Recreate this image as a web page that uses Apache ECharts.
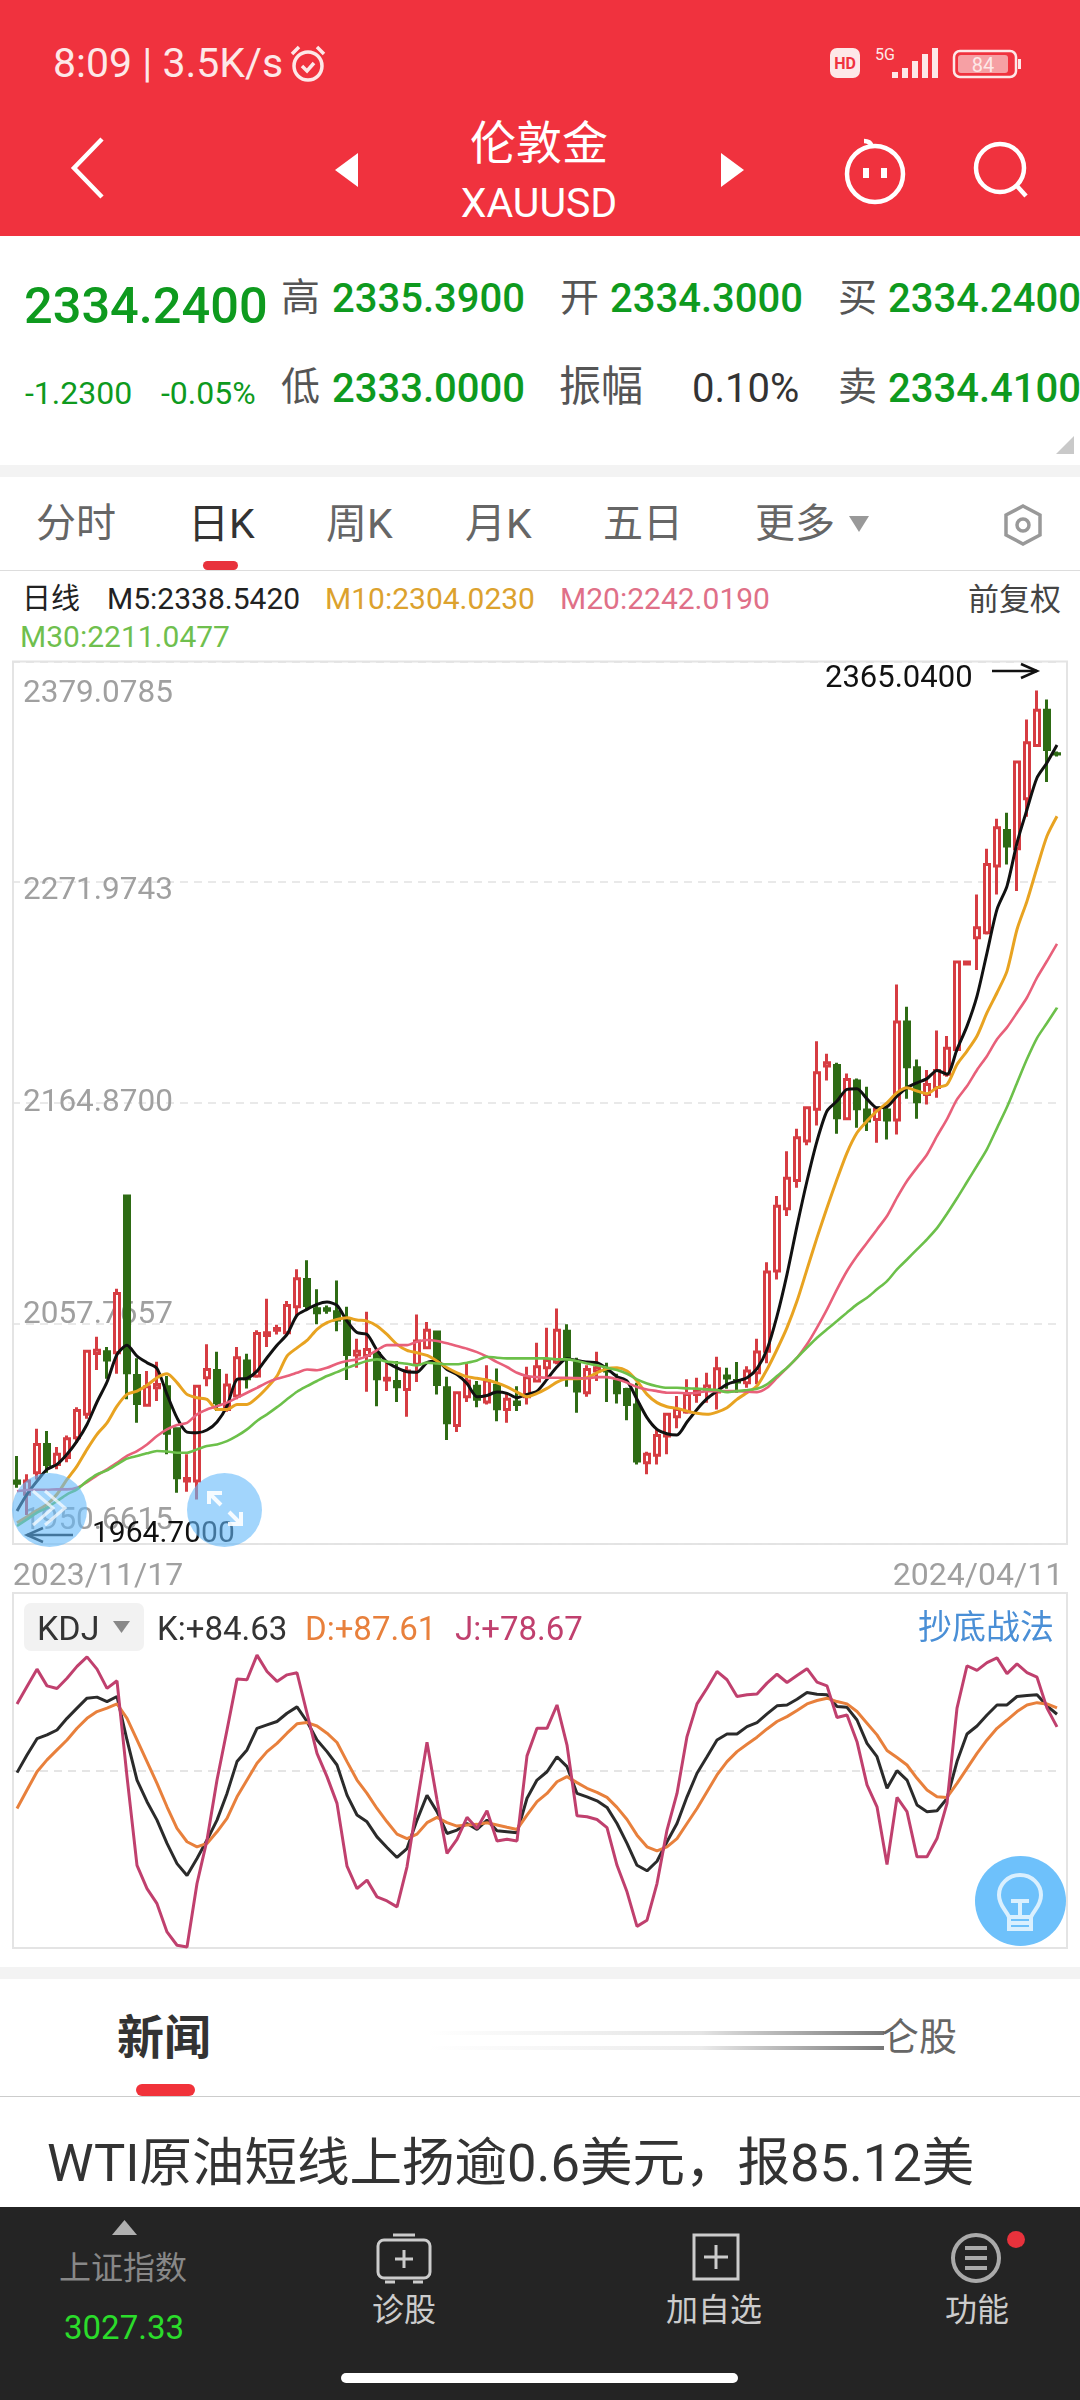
<!DOCTYPE html>
<html lang="zh"><head><meta charset="utf-8">
<script src="https://cdn.jsdelivr.net/npm/echarts@6/dist/echarts.min.js"></script>
<style>
html,body{margin:0;padding:0;background:#fff;width:1080px;height:2400px;overflow:hidden}
body{font-family:Roboto,"Noto Sans CJK SC",sans-serif;position:relative}
.t{position:absolute;white-space:nowrap;line-height:1;transform:translateY(-50%)}
.b{position:absolute}
.g{color:#0e9a1e}.n{color:#555}
#chart{position:absolute;left:0;top:0;width:1080px;height:2400px;z-index:1}
.o{z-index:2}
svg{position:absolute;overflow:visible}
</style></head><body>
<!-- header -->
<div class="b" style="left:0;top:0;width:1080px;height:236px;background:#f0323e"></div>
<span class="t" style="left:53px;top:63px;font-size:41px;color:#fde8e8">8:09 | 3.5K/s</span>
<svg style="left:288px;top:44px" width="40" height="40" fill="none" stroke="#fde8e8" stroke-width="3.5"><circle cx="20" cy="22" r="14"/><path d="M4 10l7-7M36 10l-7-7M14 22l5 5 7-8"/></svg>
<svg style="left:828px;top:46px" width="200" height="36">
<rect x="2" y="2" width="30" height="30" rx="7" fill="#fde8e8"/><text x="17" y="23" font-size="16" font-weight="700" text-anchor="middle" fill="#f0323e" font-family="Roboto">HD</text>
<text x="47" y="14" font-size="16" fill="#fde8e8" font-family="Roboto">5G</text>
<g fill="#fde8e8"><rect x="64" y="26" width="6" height="6"/><rect x="74" y="22" width="6" height="10"/><rect x="84" y="15" width="6" height="17"/><rect x="94" y="8" width="6" height="24"/><rect x="104" y="2" width="6" height="30"/></g>
<rect x="126" y="5" width="62" height="26" rx="6" fill="none" stroke="#fde8e8" stroke-width="2.5"/><rect x="130" y="9" width="50" height="18" rx="3" fill="#f6a0a4"/><text x="155" y="26" font-size="20" text-anchor="middle" fill="#fde8e8" font-family="Roboto">84</text><rect x="190" y="13" width="3" height="10" fill="#fde8e8"/>
</svg>
<span class="t" style="left:539px;top:143px;font-size:46px;color:#fff;transform:translate(-50%,-50%)">伦敦金</span>
<span class="t" style="left:539px;top:203px;font-size:41px;color:#fff;transform:translate(-50%,-50%)">XAUUSD</span>
<svg style="left:68px;top:136px" width="40" height="64" fill="none" stroke="#fff" stroke-width="4.5"><path d="M34 3L6 32l28 29"/></svg>
<svg style="left:335px;top:153px" width="24" height="34" fill="#fff"><path d="M23 0v34L0 17z"/></svg>
<svg style="left:720px;top:153px" width="24" height="34" fill="#fff"><path d="M1 0v34l23-17z"/></svg>
<svg style="left:842px;top:139px" width="66" height="60" fill="none" stroke="#fff" stroke-width="4.5"><circle cx="33" cy="35" r="28" /><path d="M30 7C28 2 24 2 22 2"/><path d="M24 29v10M42 29v10" stroke-width="6"/></svg>
<svg style="left:972px;top:141px" width="60" height="58" fill="none" stroke="#fff" stroke-width="4.5"><circle cx="28" cy="27" r="24"/><path d="M44 44l10 11"/></svg>
<!-- quote -->
<span class="t g" style="left:24px;top:306px;font-size:50.500px;font-weight:500">2334.2400</span>
<span class="t g" style="left:25px;top:393px;font-size:32px">-1.2300</span>
<span class="t g" style="left:161px;top:393px;font-size:32px">-0.05%</span>
<span class="t n" style="left:281px;top:298px;font-size:39px">高</span>
<span class="t g" style="left:332px;top:299px;font-size:40px;font-weight:500">2335.3900</span>
<span class="t n" style="left:560px;top:298px;font-size:39px">开</span>
<span class="t g" style="left:610px;top:299px;font-size:40px;font-weight:500">2334.3000</span>
<span class="t n" style="left:838px;top:298px;font-size:39px">买</span>
<span class="t g" style="left:888px;top:299px;font-size:40px;font-weight:500">2334.2400</span>
<span class="t n" style="left:281px;top:387px;font-size:39px">低</span>
<span class="t g" style="left:332px;top:389px;font-size:40px;font-weight:500">2333.0000</span>
<span class="t n" style="left:559px;top:387px;font-size:42px">振幅</span>
<span class="t" style="left:692px;top:389px;font-size:40px;color:#333">0.10%</span>
<span class="t n" style="left:838px;top:387px;font-size:39px">卖</span>
<span class="t g" style="left:888px;top:389px;font-size:40px;font-weight:500">2334.4100</span>
<svg style="left:1056px;top:436px" width="20" height="18" fill="#c9c9c9"><path d="M18 0v18H0z"/></svg>
<div class="b" style="left:0;top:465px;width:1080px;height:12px;background:#f3f3f3"></div>
<!-- tabs -->
<span class="t" style="left:36px;top:524px;font-size:40px;color:#666">分时</span>
<span class="t" style="left:188px;top:524px;font-size:41px;color:#333">日K</span>
<span class="t" style="left:326px;top:524px;font-size:41px;color:#666">周K</span>
<span class="t" style="left:465px;top:524px;font-size:41px;color:#666">月K</span>
<span class="t" style="left:603px;top:524px;font-size:40px;color:#666">五日</span>
<span class="t" style="left:755px;top:524px;font-size:40px;color:#666">更多</span>
<svg style="left:849px;top:514px" width="20" height="20" fill="#999"><path d="M0 2h20L10 18z"/></svg>
<svg style="left:1001px;top:503px" width="44" height="44" fill="none" stroke="#999" stroke-width="3.5"><path d="M22 3l17 9v20l-17 9-17-9V12z"/><circle cx="22" cy="22" r="6"/></svg>
<div class="b" style="left:203px;top:561px;width:35px;height:9px;border-radius:5px;background:#e8323c"></div>
<div class="b" style="left:0;top:570px;width:1080px;height:1px;background:#ddd"></div>
<!-- MA legend -->
<span class="t" style="left:22px;top:599px;font-size:29px;color:#222">日线</span>
<span class="t" style="left:107px;top:599px;font-size:30px;color:#222">M5:2338.5420</span>
<span class="t" style="left:325px;top:599px;font-size:30px;color:#dca22e">M10:2304.0230</span>
<span class="t" style="left:560px;top:599px;font-size:30px;color:#e07088">M20:2242.0190</span>
<span class="t" style="left:968px;top:599px;font-size:31px;color:#444">前复权</span>
<span class="t" style="left:20px;top:637px;font-size:30px;color:#6fbf4e">M30:2211.0477</span>
<!-- KDJ header -->
<div class="b" style="left:24px;top:1603px;width:120px;height:48px;border-radius:7px;background:#f2f2f2"></div>
<span class="t o" style="left:37px;top:1628px;font-size:34px;color:#333">KDJ</span>
<svg class="o" style="left:113px;top:1621px" width="17" height="12" fill="#888"><path d="M0 0h17l-8.500 12z"/></svg>
<span class="t o" style="left:157px;top:1628px;font-size:33px;color:#333">K:+84.63</span>
<span class="t o" style="left:305px;top:1628px;font-size:33px;color:#e8803c">D:+87.61</span>
<span class="t o" style="left:455px;top:1628px;font-size:33px;color:#c0406e">J:+78.67</span>
<span class="t o" style="left:918px;top:1627px;font-size:34px;color:#4a8fd6">抄底战法</span>
<!-- floating buttons -->
<div class="b o" style="left:12px;top:1473px;width:75px;height:74px;border-radius:50%;background:rgba(100,185,250,.6)"></div>
<div class="b o" style="left:187px;top:1473px;width:75px;height:74px;border-radius:50%;background:rgba(100,185,250,.6)"></div>
<svg class="o" style="left:25px;top:1485px" width="50" height="45" fill="none" stroke="rgba(255,255,255,.7)" stroke-width="3"><path d="M8 6l20 17L8 40M20 6l20 17-20 17"/></svg>
<svg class="o" style="left:205px;top:1490px" width="40" height="38" fill="none" stroke="rgba(255,255,255,.9)" stroke-width="4"><path d="M4 3l12 12M36 34L24 22M4 14V3h13M36 22v12H23"/></svg>
<div class="b o" style="left:975px;top:1856px;width:91px;height:90px;border-radius:50%;background:#6ec1fb"></div>
<svg class="o" style="left:995px;top:1873px" width="50" height="62" fill="none" stroke="rgba(255,255,255,.75)" stroke-width="4"><path d="M14 44C10 36 4 32 4 22a21 20 0 0 1 42 0c0 10-6 14-10 22zM14 44v12h22V44M14 50h22M16 28h18M25 28v16"/></svg>
<!-- news -->
<div class="b" style="left:0;top:1967px;width:1080px;height:12px;background:#f3f3f3"></div>
<span class="t" style="left:117px;top:2037px;font-size:47px;font-weight:700;color:#333">新闻</span>
<div class="b" style="left:427px;top:2031px;width:457px;height:4px;background:linear-gradient(to right,rgba(120,120,120,0),rgba(120,120,120,.2) 60%,#777)"></div>
<div class="b" style="left:427px;top:2046px;width:457px;height:4px;background:linear-gradient(to right,rgba(120,120,120,0),rgba(120,120,120,.15) 60%,#777)"></div>
<span class="t" style="left:881px;top:2037px;font-size:38px;color:#666">仑股</span>
<div class="b" style="left:136px;top:2084px;width:59px;height:12px;border-radius:6px;background:#f1323a"></div>
<div class="b" style="left:0;top:2096px;width:1080px;height:1px;background:#ccc"></div>
<span class="t" style="left:47px;top:2163px;font-size:52.500px;color:#333">WTI原油短线上扬逾0.6美元，报85.12美</span>
<!-- bottom bar -->
<div class="b o" style="left:0;top:2207px;width:1080px;height:193px;background:#242424"></div>
<svg class="o" style="left:112px;top:2220px" width="25" height="15" fill="#b0b0b0"><path d="M12.500 0L25 15H0z"/></svg>
<span class="t o" style="left:59px;top:2268px;font-size:32px;color:#888">上证指数</span>
<span class="t o" style="left:64px;top:2327px;font-size:33px;color:#2bdc2b">3027.33</span>
<svg class="o" style="left:375px;top:2232px" width="60" height="54" fill="none" stroke="#ccc" stroke-width="3"><rect x="3" y="8" width="52" height="38" rx="6"/><path d="M18 3h22M10 50h10M38 50h10M29 18v18M20 27h18"/></svg>
<span class="t o" style="left:372px;top:2310px;font-size:32px;color:#ccc">诊股</span>
<svg class="o" style="left:692px;top:2233px" width="48" height="48" fill="none" stroke="#ccc" stroke-width="3"><rect x="2" y="2" width="44" height="44"/><path d="M24 12v24M12 24h24"/></svg>
<span class="t o" style="left:666px;top:2310px;font-size:32px;color:#ccc">加自选</span>
<svg class="o" style="left:950px;top:2232px" width="52" height="52" fill="none" stroke="#aaa" stroke-width="4"><circle cx="26" cy="26" r="23"/><path d="M15 16h22M15 26h22M15 36h22" stroke-width="4"/></svg>
<span class="t o" style="left:945px;top:2310px;font-size:32px;color:#ccc">功能</span>
<div class="b o" style="left:1007px;top:2231px;width:18px;height:17px;border-radius:50%;background:#e8323c"></div>
<div class="b o" style="left:341px;top:2373px;width:397px;height:10px;border-radius:5px;background:#fff"></div>

<div id="chart"></div>
<script>
const dates=["2023/11/17","2023/11/20","2023/11/21","2023/11/22","2023/11/23","2023/11/24","2023/11/27","2023/11/28","2023/11/29","2023/11/30",
"2023/12/01","2023/12/04","2023/12/05","2023/12/06","2023/12/07","2023/12/08","2023/12/11","2023/12/12","2023/12/13","2023/12/14","2023/12/15","2023/12/18","2023/12/19","2023/12/20","2023/12/21","2023/12/22","2023/12/25","2023/12/26","2023/12/27","2023/12/28","2023/12/29",
"2024/01/01","2024/01/02","2024/01/03","2024/01/04","2024/01/05","2024/01/08","2024/01/09","2024/01/10","2024/01/11","2024/01/12","2024/01/15","2024/01/16","2024/01/17","2024/01/18","2024/01/19","2024/01/22","2024/01/23","2024/01/24","2024/01/25","2024/01/26","2024/01/29","2024/01/30","2024/01/31",
"2024/02/01","2024/02/02","2024/02/05","2024/02/06","2024/02/07","2024/02/08","2024/02/09","2024/02/12","2024/02/13","2024/02/14","2024/02/15","2024/02/16","2024/02/19","2024/02/20","2024/02/21","2024/02/22","2024/02/23","2024/02/26","2024/02/27","2024/02/28","2024/02/29",
"2024/03/01","2024/03/04","2024/03/05","2024/03/06","2024/03/07","2024/03/08","2024/03/11","2024/03/12","2024/03/13","2024/03/14","2024/03/15","2024/03/18","2024/03/19","2024/03/20","2024/03/21","2024/03/22","2024/03/25","2024/03/26","2024/03/27","2024/03/28","2024/03/29",
"2024/04/01","2024/04/02","2024/04/03","2024/04/04","2024/04/05","2024/04/08","2024/04/09","2024/04/10","2024/04/11"];
const priceTicks=[1950.6615,2057.7657,2164.87,2271.9743,2379.0785];
const opens=[1981.2,1974.8,1985.3,1999.0,1989.3,1992.6,2002.3,2013.6,2043.2,2044.0,2043.5,2119.6,2032.5,2018.0,2026.5,2027.0,2006.6,1981.2,1981.2,2031.4,2034.9,2016.0,2022.5,2039.5,2032.2,2051.9,2054.4,2053.2,2065.9,2079.1,2064.9,2064.9,2063.4,2059.7,2042.4,
2042.2,2043.2,2030.3,2029.5,2025.7,2037.9,2045.9,2053.6,2026.5,2008.2,2022.2,2027.3,2019.6,2027.7,2016.0,2019.6,2022.2,2029.8,2036.2,2039.0,2054.0,2038.7,2024.1,2034.6,2035.4,2029.8,2025.7,2018.1,1990.1,1993.7,2003.1,2012.5,2014.7,2023.3,2025.7,2024.5,
2032.2,2030.1,2029.0,2033.8,2044.3,2083.2,2113.4,2127.2,2146.3,2161.7,2182.7,2183.0,2157.1,2175.4,2161.4,2156.8,2161.4,2156.5,2204.1,2181.9,2168.9,2172.3,2178.7,2190.8,2232.2,2245.0,2247.4,2279.8,2297.1,2288.2,2312.5,2338.4,2355.4,2334.3];
const closes=[1980.1,1981.2,1999.0,1989.3,1994.2,2001.8,2015.5,2044.3,2044.7,2040.0,2072.3,2033.8,2018.9,2027.0,2028.1,2004.4,1982.8,1982.5,2027.3,2035.4,2019.2,2027.8,2041.1,2030.9,2052.9,2053.2,2055.3,2066.5,2079.5,2066.5,2062.9,2064.1,2059.4,2042.7,2044.3,
2045.1,2030.9,2031.1,2027.0,2034.6,2049.2,2054.5,2028.1,2009.5,2024.1,2029.8,2020.9,2029.8,2016.3,2020.9,2018.4,2031.4,2036.7,2039.8,2054.5,2040.6,2024.9,2035.4,2036.2,2034.6,2024.1,2018.4,1990.9,1994.2,2003.4,2013.6,2016.0,2023.3,2024.9,2027.4,2035.8,
2031.2,2029.3,2034.6,2043.9,2082.7,2114.7,2128.2,2147.9,2162.5,2179.5,2184.3,2157.6,2176.2,2162.0,2156.0,2161.7,2156.5,2204.1,2182.4,2165.4,2173.8,2180.6,2191.3,2233.2,2233.2,2249.9,2280.6,2298.4,2289.5,2330.3,2339.7,2355.5,2336.4,2334.24];
const lows=[1978.0,1964.7,1982.0,1985.3,1986.9,1990.4,1999.8,2011.5,2035.1,2030.9,2033.3,2020.9,2009.5,2017.6,2020.1,1994.2,1975.6,1976.0,1972.3,2027.3,2015.2,2014.9,2020.9,2026.2,2031.4,2046.3,2052.4,2051.6,2061.3,2064.6,2057.3,2062.5,2054.0,2030.3,2036.2,
2024.6,2017.6,2024.9,2019.6,2012.5,2029.3,2045.5,2023.3,2001.1,2005.0,2019.6,2017.1,2018.4,2010.3,2009.5,2015.2,2018.4,2029.3,2031.4,2037.9,2027.0,2014.4,2022.2,2029.8,2019.6,2018.9,2010.8,1989.3,1984.5,1989.3,1994.2,2006.8,2013.9,2019.2,2019.2,2016.0,
2026.0,2024.1,2026.5,2028.2,2038.4,2079.1,2109.9,2123.6,2144.2,2153.9,2175.7,2149.9,2156.5,2152.8,2151.2,2145.5,2147.1,2149.5,2166.8,2157.1,2164.0,2167.3,2177.5,2189.5,2231.9,2229.3,2246.6,2266.0,2280.6,2267.7,2303.8,2338.1,2320.6,2333.0];
const highs=[1993.4,1984.5,2006.6,2005.5,1997.7,2003.4,2017.1,2044.7,2051.3,2046.3,2074.6,2119.9,2040.8,2034.6,2039.2,2032.2,2007.1,1994.2,2027.3,2047.6,2044.0,2033.3,2046.3,2043.0,2054.5,2069.7,2057.1,2068.6,2084.0,2088.4,2074.3,2066.5,2078.6,2065.9,2050.3,
2063.4,2043.2,2038.7,2039.5,2037.0,2062.1,2058.4,2054.0,2031.9,2024.1,2038.2,2029.8,2037.4,2035.9,2024.1,2027.3,2036.7,2048.4,2055.7,2065.0,2057.3,2041.1,2037.4,2044.0,2038.7,2033.3,2026.5,2028.9,1995.5,2006.3,2014.4,2022.5,2030.6,2031.4,2033.8,2041.6,
2036.2,2039.0,2037.0,2050.3,2087.5,2119.6,2141.4,2152.3,2163.0,2194.8,2188.7,2184.3,2179.1,2176.7,2172.7,2162.5,2163.3,2222.3,2211.5,2185.9,2180.8,2200.0,2197.3,2233.7,2233.2,2266.0,2288.2,2302.8,2305.7,2330.3,2351.0,2365.04,2360.7,2335.39];
const ma5=[1966.7,1974.8,1981.2,1986.9,1989.3,1994.2,2000.6,2008.7,2019.6,2029.3,2042.7,2047.1,2041.9,2038.7,2035.9,2023.3,2011.9,2005.0,2004.7,2006.0,2009.9,2017.6,2030.6,2031.1,2034.6,2041.1,2047.2,2052.4,2061.7,2064.6,2067.0,2068.1,2066.5,2058.9,2053.3,
2052.4,2044.8,2039.0,2036.2,2034.3,2034.1,2038.7,2039.5,2035.4,2033.0,2028.6,2022.2,2022.8,2024.4,2023.8,2021.7,2023.3,2024.9,2030.6,2036.7,2040.6,2039.8,2039.0,2038.7,2035.8,2031.9,2029.8,2020.9,2012.0,2006.3,2004.2,2003.6,2009.9,2016.0,2021.2,2024.9,
2028.2,2029.8,2031.4,2035.8,2045.1,2061.3,2081.6,2105.0,2126.9,2146.3,2160.9,2165.7,2171.4,2171.7,2166.8,2162.5,2163.0,2168.1,2172.2,2174.6,2176.6,2180.6,2178.7,2190.8,2202.1,2216.7,2237.7,2258.8,2270.1,2291.1,2307.3,2322.7,2330.0,2338.542];
const ma10=[1961.0,1963.9,1967.0,1969.9,1974.8,1982.0,1988.5,1996.6,2003.9,2009.5,2017.6,2023.3,2024.9,2027.7,2031.4,2033.3,2029.0,2023.3,2021.7,2020.9,2016.0,2016.0,2018.4,2018.4,2021.7,2026.5,2032.2,2041.9,2045.9,2049.5,2054.9,2058.1,2059.7,2060.5,2059.4,
2058.9,2056.5,2052.4,2047.6,2044.7,2043.5,2042.2,2039.5,2036.2,2033.8,2031.9,2031.1,2030.3,2028.9,2027.0,2024.4,2022.2,2023.8,2026.2,2029.3,2030.9,2030.9,2031.4,2033.8,2035.8,2036.2,2034.6,2029.8,2023.3,2019.3,2017.3,2016.5,2015.2,2014.1,2013.6,2014.7,
2016.8,2020.9,2024.1,2027.4,2035.4,2045.1,2055.7,2068.6,2084.0,2099.4,2113.9,2127.7,2140.6,2150.3,2156.0,2160.9,2164.9,2169.8,2172.2,2170.6,2169.3,2172.2,2173.8,2183.5,2190.0,2197.3,2208.6,2218.3,2228.8,2249.0,2262.8,2279.0,2294.4,2304.023];
const ma20=[1976.3,1976.9,1977.0,1977.0,1977.2,1977.2,1978.0,1980.7,1984.0,1986.9,1990.1,1993.4,1995.8,1999.0,2003.1,2006.3,2008.4,2009.5,2013.6,2016.0,2017.6,2019.3,2021.7,2024.1,2026.5,2029.0,2030.9,2032.2,2033.8,2035.4,2035.0,2036.2,2038.2,2039.5,2040.3,
2041.9,2044.8,2047.2,2047.2,2047.2,2048.9,2049.7,2049.2,2048.1,2046.8,2045.5,2043.8,2041.6,2039.0,2036.6,2033.8,2032.2,2031.7,2031.4,2031.4,2031.4,2031.2,2031.1,2031.7,2031.7,2030.6,2029.0,2026.9,2025.7,2024.9,2024.1,2024.1,2023.8,2024.1,2024.9,2024.9,
2024.9,2024.9,2024.6,2024.4,2026.5,2031.4,2036.2,2041.1,2047.6,2055.7,2064.6,2074.3,2083.2,2090.5,2096.9,2103.4,2109.9,2118.8,2126.9,2133.4,2139.8,2148.7,2157.0,2166.5,2173.0,2180.8,2187.6,2195.7,2201.5,2208.6,2216.0,2225.6,2233.7,2242.019];
const ma30=[1959.4,1962.6,1965.9,1968.3,1971.5,1974.8,1977.2,1981.2,1984.5,1986.4,1989.3,1992.1,1993.4,1994.7,1995.8,1995.6,1995.0,1995.0,1996.6,1998.2,1999.0,2000.6,2003.1,2006.3,2010.4,2013.6,2017.1,2020.9,2024.6,2027.3,2029.8,2032.2,2034.1,2036.2,2037.9,
2039.5,2040.3,2039.2,2038.7,2038.2,2037.4,2038.7,2038.3,2037.9,2037.9,2038.7,2039.8,2041.6,2041.1,2040.8,2040.8,2040.8,2040.8,2040.8,2040.3,2040.3,2039.5,2038.3,2037.4,2036.2,2035.1,2033.3,2030.6,2028.6,2027.3,2026.5,2026.5,2026.2,2026.1,2025.7,2025.4,
2024.4,2024.9,2025.4,2026.0,2028.2,2032.2,2036.2,2041.1,2046.0,2050.8,2054.9,2058.9,2063.0,2067.0,2070.2,2074.3,2078.3,2084.0,2088.8,2093.7,2098.6,2104.0,2111.0,2118.5,2126.4,2134.3,2142.4,2152.6,2162.8,2174.5,2186.1,2196.3,2203.6,2211.048];
const kdjK=[57.1,65.4,73.1,74.9,77.2,82.7,87.5,92.2,92.7,90.6,93.0,72.5,53.6,43.4,34.7,23.7,14.2,8.6,16.6,25.3,34.7,47.3,62.3,67.8,78.0,79.6,81.2,85.1,88.1,81.2,72.5,67.0,60.7,46.5,37.1,33.9,26.8,21.8,17.1,21.3,34.7,46.4,38.7,28.4,30.0,33.1,30.3,34.7,29.7,29.2,28.7,45.0,53.6,
57.5,64.6,59.9,47.3,45.7,43.8,40.7,33.1,23.7,13.4,10.8,15.3,24.5,33.1,45.7,56.8,64.6,72.5,75.3,75.3,78.8,80.7,84.8,88.6,89.0,91.7,94.9,94.1,93.8,88.3,87.9,81.9,70.9,64.6,49.7,58.0,53.6,41.8,38.7,39.1,44.9,62.3,75.3,79.1,84.3,89.0,89.0,93.0,93.5,93.8,88.6,84.63];
const kdjD=[40.2,48.9,57.5,63.1,67.8,72.5,78.0,82.7,85.9,87.5,89.5,82.7,72.5,62.3,52.0,41.0,30.8,24.5,22.1,23.7,29.2,35.5,45.7,53.6,61.5,67.0,70.9,75.7,80.1,80.7,79.1,75.7,71.3,62.3,53.6,47.3,40.2,33.9,28.1,26.0,28.1,33.5,36.0,33.5,31.9,32.4,32.7,33.5,32.4,31.3,30.3,37.1,43.4,
47.3,52.8,55.2,52.4,49.7,47.8,45.4,40.7,35.0,27.6,22.1,20.2,22.1,26.0,33.1,40.2,48.1,56.0,62.3,67.0,70.5,73.8,77.7,81.2,83.5,86.4,89.5,91.1,92.2,90.6,89.5,85.9,80.4,74.9,67.5,64.2,60.7,54.4,48.9,45.7,45.4,52.0,59.1,66.2,72.5,78.0,81.9,85.9,89.0,90.1,89.5,87.61];
const kdjJ=[89.5,97.7,105.9,98.0,96.8,101.6,107.2,111.7,105.9,96.8,100.4,55.2,13.4,2.4,-4.7,-18.0,-24.3,-25.1,4.8,25.3,53.6,77.2,101.2,100.9,112.5,104.8,100.1,103.2,104.2,85.1,66.2,55.2,42.6,13.0,2.4,6.4,-1.5,-3.4,-6.2,12.7,42.6,71.4,44.2,19.0,25.6,36.0,30.8,39.1,24.9,25.7,24.9,65.0,78.0,
78.0,89.0,70.1,36.8,36.3,35.0,31.2,13.4,0.9,-15.4,-12.5,4.8,30.0,47.3,74.1,89.5,96.9,104.8,100.9,93.0,93.8,94.2,99.3,103.5,99.6,102.9,106.1,99.8,98.0,83.1,84.3,71.7,51.3,41.0,13.8,45.4,38.7,17.4,17.4,26.0,42.6,87.5,107.5,105.3,109.0,111.2,103.8,108.4,104.3,102.1,87.5,78.67];

const candle=opens.map((o,i)=>[o,closes[i],lows[i],highs[i]]);
const GRID_L=12,GRID_W=1050,MAIN_TOP=661.6,MAIN_H=882.4,KDJ_TOP=1593,KDJ_H=355;
const tickStyle={'1950.6615':{padding:[0,0,46,0]},'2057.7657':{padding:[0,0,16,0]},'2164.87':{padding:[0,0,0,0]},'2271.9743':{padding:[18,0,0,0]},'2379.0785':{padding:[66,0,0,0]}};
const rich={};
priceTicks.forEach((t,i)=>{rich['k'+i]=Object.assign({color:'#a0a0a0',fontSize:31.500,fontFamily:'Roboto'},tickStyle[String(t)]);});
const lineS=(name,data,color,w)=>({name,type:'line',data,xAxisIndex:0,yAxisIndex:0,symbol:'none',smooth:0.25,silent:true,lineStyle:{color,width:w},animation:false});
const kS=(name,data,color)=>({name,type:'line',data,xAxisIndex:1,yAxisIndex:1,symbol:'none',silent:true,lineStyle:{color,width:3},animation:false});
const chart=echarts.init(document.getElementById('chart'),null,{width:1080,height:2400});
chart.setOption({
 animation:false,
 backgroundColor:'transparent',
 grid:[{left:GRID_L,top:MAIN_TOP,width:GRID_W,height:MAIN_H},{left:GRID_L,top:KDJ_TOP,width:GRID_W,height:KDJ_H}],
 xAxis:[
  {type:'category',gridIndex:0,data:dates,boundaryGap:true,axisLine:{show:false},axisTick:{show:false},splitLine:{show:false},
   axisLabel:{interval:(i)=>i===0||i===dates.length-1,margin:17,hideOverlap:false,
    formatter:(v,i)=>i===0?`{a|${v}}`:`{b|${v}}`,
    rich:{a:{color:'#a0a0a0',fontSize:32,fontFamily:'Roboto',padding:[0,0,0,162]},b:{color:'#a0a0a0',fontSize:32,fontFamily:'Roboto',padding:[0,158,0,0]}}}},
  {type:'category',gridIndex:1,data:dates,boundaryGap:true,axisLine:{show:false},axisTick:{show:false},axisLabel:{show:false},splitLine:{show:false}}
 ],
 yAxis:[
  {type:'value',gridIndex:0,min:priceTicks[0],max:priceTicks[4],scale:true,axisLine:{show:false},
   axisTick:{show:false,customValues:priceTicks},
   axisLabel:{inside:true,margin:11,customValues:priceTicks,showMinLabel:true,showMaxLabel:true,
     formatter:(v)=>{const i=priceTicks.findIndex(t=>Math.abs(t-v)<1e-3);return `{k${i}|${priceTicks[i].toFixed(4)}}`;},rich},
   splitLine:{show:true,lineStyle:{color:'#e2e2e2',type:[8,6],width:1.5}}},
  {type:'value',gridIndex:1,min:-25.6,max:141.8,axisLine:{show:false},axisTick:{show:false,customValues:[58.1]},axisLabel:{show:false,customValues:[58.1]},
   splitLine:{show:true,lineStyle:{color:'#dddddd',type:[8,6],width:1.5}}}
 ],
 series:[
  {name:'日线',type:'candlestick',data:candle,xAxisIndex:0,yAxisIndex:0,barWidth:5,clip:false,silent:true,animation:false,
   itemStyle:{color:'#ffffff',color0:'#2e6b14',borderColor:'#d63c42',borderColor0:'#2e6b14',borderColorDoji:'#d63c42',borderWidth:3}},
  lineS('M5',ma5,'#111111',3),
  lineS('M10',ma10,'#e8a321',3),
  lineS('M20',ma20,'#e8607a',2.6),
  lineS('M30',ma30,'#6cc04a',2.6),
  kS('K',kdjK,'#2b2b2b'),
  kS('D',kdjD,'#e8803c'),
  kS('J',kdjJ,'#c0406e')
 ],
 graphic:[
  {type:'rect',silent:true,z:0,shape:{x:13,y:661.5,width:1054,height:882.5},style:{fill:'none',stroke:'#e4e4e4',lineWidth:2}},
  {type:'rect',silent:true,z:0,shape:{x:13,y:1593,width:1054,height:355},style:{fill:'none',stroke:'#e4e4e4',lineWidth:2}},
  {type:'text',silent:true,z:5,x:825,y:664,style:{text:'2365.0400',fill:'#111',fontSize:31,fontFamily:'Roboto'}},
  {type:'polyline',silent:true,z:5,shape:{points:[[992,671],[1037,671]]},style:{stroke:'#111',lineWidth:2.5,fill:'none'}},
  {type:'polyline',silent:true,z:5,shape:{points:[[1021,664],[1037,671],[1021,678]]},style:{stroke:'#111',lineWidth:2.5,fill:'none'}},
  {type:'text',silent:true,z:5,x:92,y:1519,style:{text:'1964.7000',fill:'#111',fontSize:30,fontFamily:'Roboto'}},
  {type:'polyline',silent:true,z:5,shape:{points:[[27,1535],[73,1535]]},style:{stroke:'#111',lineWidth:2.5,fill:'none'}},
  {type:'polyline',silent:true,z:5,shape:{points:[[43,1528],[27,1535],[43,1542]]},style:{stroke:'#111',lineWidth:2.5,fill:'none'}}
 ]
});
</script>
</body></html>
